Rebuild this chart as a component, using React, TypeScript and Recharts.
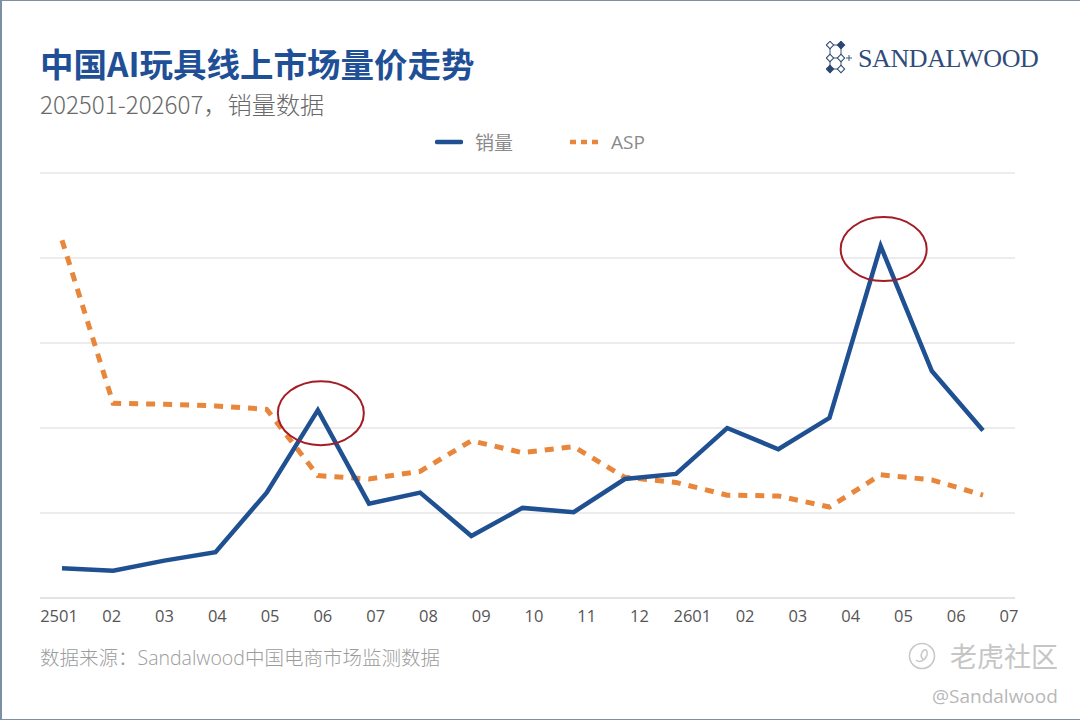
import { CartesianGrid, Line, LineChart, ReferenceDot, XAxis, YAxis } from "recharts";

// monthly periods (YYMM) and the labels printed under the axis
const periods = [
  "2501", "2502", "2503", "2504", "2505", "2506", "2507", "2508", "2509", "2510",
  "2511", "2512", "2601", "2602", "2603", "2604", "2605", "2606", "2607",
];
const tickLabels = [
  "2501", "02", "03", "04", "05", "06", "07", "08", "09", "10",
  "11", "12", "2601", "02", "03", "04", "05", "06", "07",
];
// 销量 (index, no scale printed in the source)
const volume = [
  3.5, 3.2, 4.4, 5.4, 12.4, 22.1, 11.1, 12.4, 7.3, 10.6,
  10.1, 14.0, 14.6, 20.0, 17.5, 21.2, 41.4, 26.7, 19.7,
];
// ASP (same hidden scale)
const asp = [
  42.1, 22.9, 22.8, 22.6, 22.2, 14.4, 14.0, 14.9, 18.5, 17.1,
  17.8, 14.2, 13.6, 12.1, 12.0, 10.7, 14.5, 13.9, 12.1,
];
const yTicks = [0, 10, 20, 30, 40, 50];
const peaks = ["2506", "2605"];

const data = periods.map((period, i) => ({ period, volume: volume[i], asp: asp[i] }));

const BLUE = "#1f5091";
const ORANGE = "#e8873c";
const GRID = "#dadada";
const CJK = "'Noto Sans CJK SC', 'Noto Sans', sans-serif";
const LATIN = "'Open Sans', 'Noto Sans CJK SC', sans-serif";

function PeakRing(props: any) {
  const { cx, cy } = props;
  if (cx == null || cy == null) return null;
  return (
    <ellipse cx={cx + 3} cy={cy + 3} rx={43} ry={32} fill="none" stroke="#a31d26" strokeWidth={2} />
  );
}

function Logo() {
  const cols = [4, 15];
  const rows = [4, 17, 28];
  const filled = [[false, true], [false, false], [true, false]];
  return (
    <svg width={30} height={34} style={{ position: "absolute", left: 826, top: 41 }}>
      <g stroke="#3a5680" strokeWidth={1} fill="none">
        <line x1={cols[0]} y1={rows[0]} x2={cols[1]} y2={rows[0]} />
        <line x1={cols[0]} y1={rows[1]} x2={cols[1]} y2={rows[1]} />
        <line x1={cols[0]} y1={rows[2]} x2={cols[1]} y2={rows[2]} />
        <line x1={cols[0]} y1={rows[0]} x2={cols[0]} y2={rows[1]} />
        <line x1={cols[1]} y1={rows[1]} x2={cols[1]} y2={rows[2]} />
        <line x1={cols[1]} y1={0} x2={cols[1]} y2={rows[1]} />
        <line x1={cols[0]} y1={rows[1]} x2={cols[0]} y2={32} />
        <line x1={20} y1={rows[1]} x2={26} y2={rows[1]} />
        <line x1={23} y1={rows[1] - 3} x2={23} y2={rows[1] + 3} />
      </g>
      {rows.map((y, r) =>
        cols.map((x, c) => (
          <rect
            key={`${r}-${c}`}
            x={x - 2.6}
            y={y - 2.6}
            width={5.2}
            height={5.2}
            transform={`rotate(45 ${x} ${y})`}
            fill={filled[r][c] ? "#2b466f" : "#fff"}
            stroke="#2b466f"
            strokeWidth={1}
          />
        )),
      )}
    </svg>
  );
}

export default function App() {
  return (
    <div style={{ position: "relative", width: 1080, height: 720, background: "#fff", overflow: "hidden" }}>
      <style>{"body{margin:0}"}</style>

      <div
        style={{
          position: "absolute", left: 40, top: 46, height: 33, fontFamily: CJK, fontWeight: 700,
          fontSize: 33.5, lineHeight: 1, color: "#1f4f96", whiteSpace: "nowrap",
        }}
      >
        中国AI玩具线上市场量价走势
      </div>
      <div
        style={{
          position: "absolute", left: 40, top: 92, height: 24, fontFamily: CJK, fontSize: 24.2,
          lineHeight: 1, color: "#6a6a6a", whiteSpace: "nowrap", fontWeight: 300,
        }}
      >
        202501-202607，销量数据
      </div>

      <Logo />
      <div
        style={{
          position: "absolute", left: 858, top: 46, fontFamily: "'Liberation Serif', serif",
          fontSize: 26, lineHeight: 1, color: "#2f4c7a", whiteSpace: "nowrap", letterSpacing: -0.4,
        }}
      >
        SANDALWOOD
      </div>

      {/* legend */}
      <div
        style={{
          position: "absolute", left: 0, top: 131, width: 1080, display: "flex",
          justifyContent: "center", alignItems: "center", fontFamily: CJK, fontSize: 19,
          lineHeight: "22px", color: "#8a8a8a",
        }}
      >
        <svg width={28} height={8} style={{ marginRight: 12 }}>
          <line x1={2} y1={4} x2={26} y2={4} stroke={BLUE} strokeWidth={4.5} strokeLinecap="round" />
        </svg>
        <span>销量</span>
        <svg width={30} height={8} style={{ marginLeft: 57, marginRight: 11 }}>
          <line x1={0} y1={4} x2={30} y2={4} stroke={ORANGE} strokeWidth={4.5} strokeDasharray="6 5" />
        </svg>
        <span style={{ fontFamily: LATIN }}>ASP</span>
      </div>

      <div style={{ position: "absolute", left: 0, top: 0 }}>
        <LineChart width={1080} height={720} data={data} margin={{ top: 173, right: 65, bottom: 92, left: 40 }}>
          <CartesianGrid vertical={false} stroke={GRID} strokeWidth={1.2} />
          <XAxis
            dataKey="period"
            interval={0}
            height={30}
            padding={{ left: 19, right: 6 }}
            axisLine={{ stroke: GRID, strokeWidth: 1.2 }}
            tickLine={false}
            tickSize={0}
            tickMargin={12}
            tickFormatter={(_v, i) => tickLabels[i]}
            tick={{ fill: "#555", fontSize: 16.5, fontFamily: LATIN }}
          />
          <XAxis xAxisId="data" dataKey="period" hide padding={{ left: 22, right: 32 }} />
          <YAxis domain={[0, 50]} ticks={yTicks} hide />
          <Line
            xAxisId="data"
            type="linear"
            dataKey="asp"
            stroke={ORANGE}
            strokeWidth={5}
            strokeDasharray="9 8"
            dot={false}
            activeDot={false}
            isAnimationActive={false}
          />
          <Line
            xAxisId="data"
            type="linear"
            dataKey="volume"
            stroke={BLUE}
            strokeWidth={4.5}
            dot={false}
            activeDot={false}
            isAnimationActive={false}
          />
          {peaks.map((p) => (
            <ReferenceDot
              key={p}
              xAxisId="data"
              x={p}
              y={volume[periods.indexOf(p)]}
              ifOverflow="visible"
              shape={PeakRing}
            />
          ))}
        </LineChart>
      </div>

      <div
        style={{
          position: "absolute", left: 40, top: 648, fontFamily: LATIN, fontSize: 19.5,
          lineHeight: 1, color: "#9c9c9c", whiteSpace: "nowrap", fontWeight: 300,
        }}
      >
        数据来源：Sandalwood中国电商市场监测数据
      </div>

      {/* watermark */}
      <svg width={30} height={30} style={{ position: "absolute", left: 907, top: 641 }}>
        <circle cx={15} cy={15} r={12.5} fill="none" stroke="#c9c9c9" strokeWidth={1.6} />
        <path d="M9 19 C12 22, 18 20, 20 14 C21 10, 19 8, 17 9 C14 11, 13 16, 16 18" fill="none" stroke="#c9c9c9" strokeWidth={1.6} />
      </svg>
      <div
        style={{
          position: "absolute", left: 950, top: 642, fontFamily: CJK, fontSize: 27,
          lineHeight: 1, color: "#c6c6c6", whiteSpace: "nowrap",
        }}
      >
        老虎社区
      </div>
      <div
        style={{
          position: "absolute", left: 932, top: 687, fontFamily: LATIN, fontSize: 19,
          lineHeight: 1, color: "#b8b8b8", whiteSpace: "nowrap",
        }}
      >
        @Sandalwood
      </div>

      <div
        style={{
          position: "absolute", left: 0, top: 0, width: 1078, height: 718,
          border: "1px solid #7d8fa3", borderWidth: "1px 2px 2px 2px", pointerEvents: "none",
        }}
      />
    </div>
  );
}
